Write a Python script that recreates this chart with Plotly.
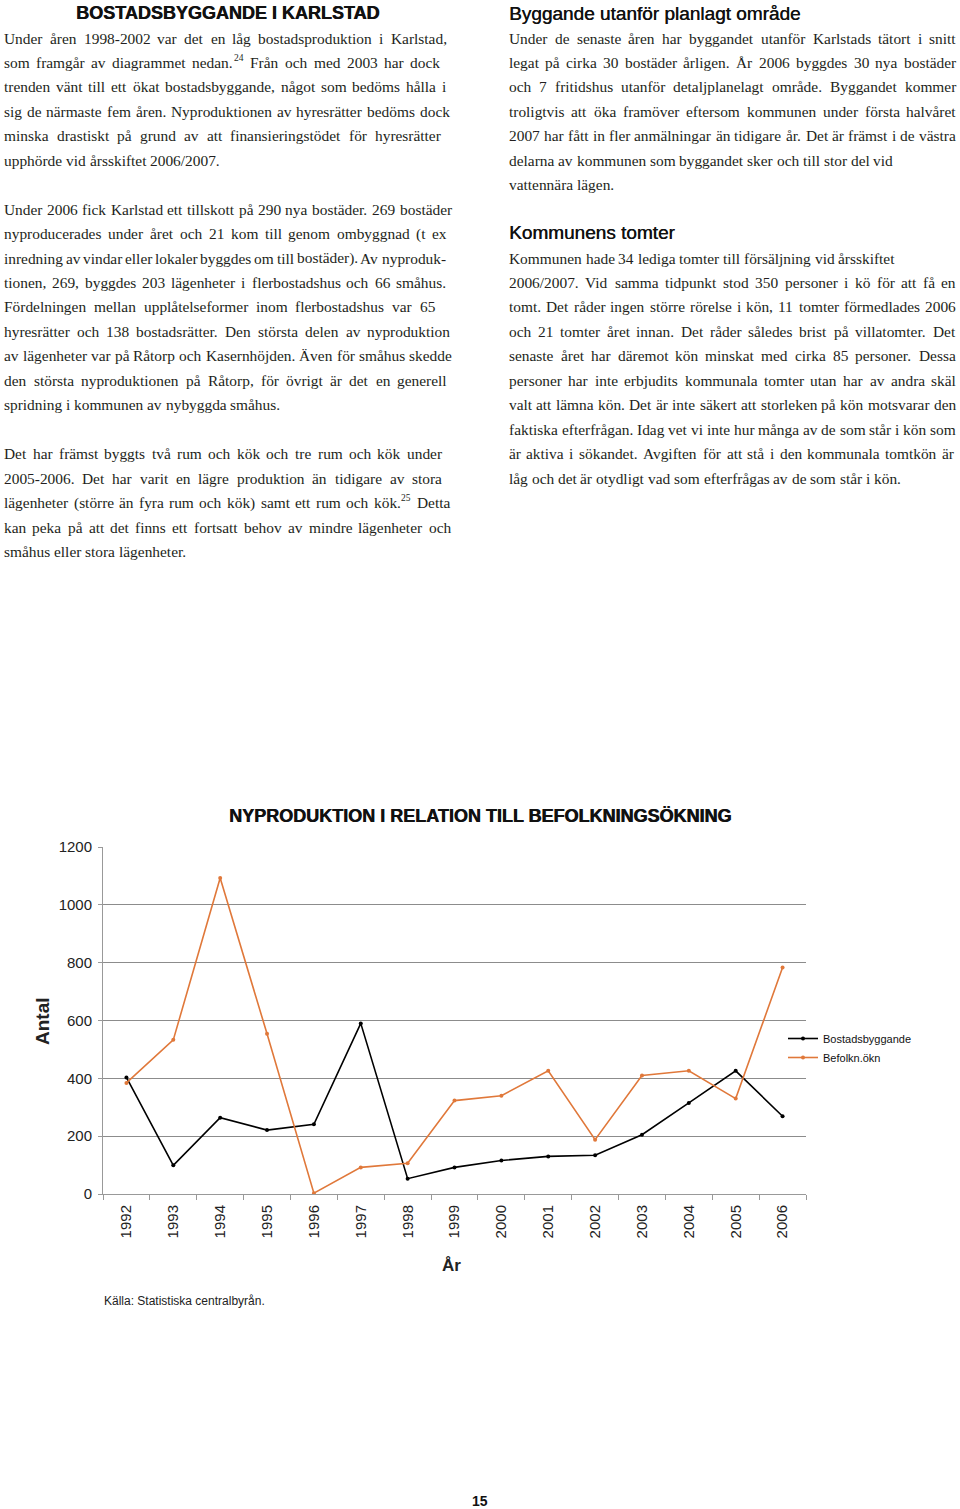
import plotly.graph_objects as go

# ---------------- data ----------------
years = [str(y) for y in range(1992, 2007)]
bostadsbyggande = [403, 99, 264, 221, 241, 590, 53, 92, 116, 130, 134, 205, 315, 426, 269]
befolkn_okn = [384, 533, 1093, 554, 3, 92, 106, 323, 340, 426, 188, 410, 426, 330, 783]
y_ticks = [0, 200, 400, 600, 800, 1000, 1200]

chart_title = "NYPRODUKTION I RELATION TILL BEFOLKNINGSÖKNING"
y_title = "Antal"
x_title = "År"
source = "Källa: Statistiska centralbyrån."
page_no = "15"

left_heading = "BOSTADSBYGGANDE I KARLSTAD"
left_lines = [
    "Under åren 1998-2002 var det en låg bostadsproduktion i Karlstad,",
    "som framgår av diagrammet nedan.^24  Från och med 2003 har dock",
    "trenden vänt till ett ökat bostadsbyggande, något som bedöms hålla i",
    "sig de närmaste fem åren. Nyproduktionen av hyresrätter bedöms dock",
    "minska drastiskt på grund av att finansieringstödet för hyresrätter",
    "upphörde vid årsskiftet 2006/2007.",
    "",
    "Under 2006 fick Karlstad ett tillskott på 290 nya bostäder. 269 bostäder",
    "nyproducerades under året och 21 kom till genom ombyggnad (t ex",
    "inredning av vindar eller lokaler byggdes om till bostäder). Av nyproduk-",
    "tionen, 269, byggdes 203 lägenheter i flerbostadshus och 66 småhus.",
    "Fördelningen mellan upplåtelseformer inom flerbostadshus var 65",
    "hyresrätter och 138 bostadsrätter. Den största delen av nyproduktion",
    "av lägenheter var på Råtorp och Kasernhöjden. Även för småhus skedde",
    "den största nyproduktionen på Råtorp, för övrigt är det en generell",
    "spridning i kommunen av nybyggda småhus.",
    "",
    "Det har främst byggts två rum och kök och tre rum och kök under",
    "2005-2006. Det har varit en lägre produktion än tidigare av stora",
    "lägenheter (större än fyra rum och kök) samt ett rum och kök.^25 Detta",
    "kan peka på att det finns ett fortsatt behov av mindre lägenheter och",
    "småhus eller stora lägenheter.",
]

right_heading1 = "Byggande utanför planlagt område"
right_lines1 = [
    "Under de senaste åren har byggandet utanför Karlstads tätort i snitt",
    "legat på cirka 30 bostäder årligen. År 2006 byggdes 30 nya bostäder",
    "och 7 fritidshus utanför detaljplanelagt område.  Byggandet kommer",
    "troligtvis att öka framöver eftersom kommunen under första halvåret",
    "2007 har fått in fler anmälningar än tidigare år. Det är främst i de västra",
    "delarna av kommunen som byggandet sker och till stor del vid",
    "vattennära lägen.",
]
right_heading2 = "Kommunens tomter"
right_lines2 = [
    "Kommunen hade 34 lediga tomter till försäljning vid årsskiftet",
    "2006/2007. Vid samma tidpunkt stod 350 personer i kö för att få en",
    "tomt. Det råder ingen större rörelse i kön, 11 tomter förmedlades 2006",
    "och 21 tomter året innan. Det råder således brist på villatomter. Det",
    "senaste året har däremot kön minskat med cirka 85 personer. Dessa",
    "personer har inte erbjudits kommunala tomter utan har av andra skäl",
    "valt att lämna kön. Det är inte säkert att storleken på kön motsvarar den",
    "faktiska efterfrågan. Idag vet vi inte hur många av de som står i kön som",
    "är aktiva i sökandet. Avgiften för att stå i den kommunala tomtkön är",
    "låg och det är otydligt vad som efterfrågas av de som står i kön.",
]

# ---------------- layout geometry (page pixels) ----------------
PAGE_W, PAGE_H = 960, 1509
PL, PR, PT, PB = 103, 806, 847, 1194  # plot area in page pixels

# right edge each text line is set to (None = ragged / paragraph end)
left_ends = [446, 439, 445, 449, 440, None, None, 451, 446, 445, 445, 434, 449, 451, 446,
             None, None, 441, 441, 449, 450, None]
right_ends1 = [955, 955, 955, 955, 955, None, None]
right_ends2 = [None, 955, 955, 954, 955, 955, 955, 955, 953, None]


def px(x):
    return (x - PL) / (PR - PL)


def py(y):
    return (PB - y) / (PB - PT)


ORANGE = "#E0783A"
TEXT = "#231f20"
SERIF = "Liberation Serif"
SANS = "Liberation Sans"

# Times / Liberation Serif advance widths (per 1000 em) for justification
_TW = {' ': 250, ',': 250, '-': 333, '.': 250, '/': 278, '(': 333, ')': 333, ':': 278,
       'A': 722, 'B': 667, 'C': 667, 'D': 722, 'E': 611, 'F': 556, 'G': 722, 'H': 722,
       'I': 333, 'J': 389, 'K': 722, 'L': 611, 'M': 889, 'N': 722, 'O': 722, 'P': 556,
       'Q': 722, 'R': 667, 'S': 556, 'T': 611, 'U': 722, 'V': 722, 'W': 944, 'X': 722,
       'Y': 722, 'Z': 611, 'a': 444, 'b': 500, 'c': 444, 'd': 500, 'e': 444, 'f': 333,
       'g': 500, 'h': 500, 'i': 278, 'j': 278, 'k': 500, 'l': 278, 'm': 778, 'n': 500,
       'o': 500, 'p': 500, 'q': 500, 'r': 333, 's': 389, 't': 278, 'u': 500, 'v': 500,
       'w': 722, 'x': 500, 'y': 500, 'z': 444, 'å': 444, 'ä': 444, 'ö': 500, 'Å': 722,
       'Ä': 722, 'Ö': 722, 'é': 444}
for _d in "0123456789":
    _TW[_d] = 500


def tw(s, size):
    return sum(_TW.get(c, 500) for c in s) * size / 1000.0


fig = go.Figure()
fig.add_trace(go.Scatter(
    x=years, y=bostadsbyggande, name="Bostadsbyggande", mode="lines+markers",
    line=dict(color="#000000", width=1.6), marker=dict(size=4, color="#000000"),
))
fig.add_trace(go.Scatter(
    x=years, y=befolkn_okn, name="Befolkn.ökn", mode="lines+markers",
    line=dict(color=ORANGE, width=1.6), marker=dict(size=4, color=ORANGE),
))

ann = []


def add_text(x, y, text, size, family=SERIF, color=TEXT, anchor="left", angle=0, shadow=None):
    f = dict(family=family, size=size, color=color)
    if shadow:
        f["shadow"] = shadow
    ann.append(dict(
        x=px(x), y=py(y), xref="paper", yref="paper", text=text, showarrow=False,
        xanchor=anchor, yanchor="middle", textangle=angle, font=f, borderpad=0,
    ))


BODY = 15.4
STEP = 24.45


def set_line(x0, y, line, end, size=BODY):
    words = line.split()
    parts = []
    for w in words:
        if "^" in w:
            main, sup = w.split("^")
            parts.append((main, sup))
        else:
            parts.append((w, None))

    def widths(s):
        return [tw(m, s) + (tw(sp, s * 0.62) + 1 if sp else 0) for m, sp in parts]

    s = size
    ws = widths(s)
    n = len(parts)
    if end is not None and n > 1:
        gap = (end - x0 - sum(ws)) / (n - 1)
        if gap < 0.14 * s:
            s = (end - x0) / (sum(ws) / s + (n - 1) * 0.14)
            ws = widths(s)
            gap = (end - x0 - sum(ws)) / (n - 1)
    else:
        gap = 0.25 * s
    x = x0
    for (m, sp), w in zip(parts, ws):
        add_text(x, y, m, s)
        if sp:
            add_text(x + tw(m, s) + 0.5, y - 0.33 * s, sp, s * 0.62)
        x += w + gap


HEAD_SHADOW = "0.6px 0px 0px #111"
# left column
add_text(227, 13, "<b>" + left_heading + "</b>", 18, SANS, "#111", "center", shadow=HEAD_SHADOW)
for i, (line, end) in enumerate(zip(left_lines, left_ends)):
    if line:
        set_line(3, 38 + i * STEP, line, end)

# right column
add_text(508, 13, right_heading1, 19, SANS, "#111", shadow="0.4px 0px 0px #111")
for i, (line, end) in enumerate(zip(right_lines1, right_ends1)):
    set_line(508, 38 + i * STEP, line, end)
add_text(508, 232, right_heading2, 19, SANS, "#111", shadow="0.4px 0px 0px #111")
for i, (line, end) in enumerate(zip(right_lines2, right_ends2)):
    set_line(508, 258 + i * STEP, line, end)

# chart texts
add_text(480, 816, "<b>" + chart_title + "</b>", 18, SANS, "#111", "center", shadow=HEAD_SHADOW)
add_text(42, 1021, "<b>" + y_title + "</b>", 19, SANS, "#222", "center", -90)
add_text(451, 1265, "<b>" + x_title + "</b>", 17, SANS, "#222", "center")
add_text(103, 1301, source, 12, SANS, "#222")
add_text(480, 1501, "<b>" + page_no + "</b>", 14, SANS, "#111", "center")

fig.update_layout(
    width=PAGE_W, height=PAGE_H,
    margin=dict(l=PL, r=PAGE_W - PR, t=PT, b=PAGE_H - PB, pad=0),
    paper_bgcolor="white", plot_bgcolor="white",
    showlegend=True,
    legend=dict(
        x=px(783), y=py(1048), xanchor="left", yanchor="middle",
        font=dict(family=SANS, size=11, color="#111"),
        itemwidth=30, bgcolor="rgba(0,0,0,0)", tracegroupgap=0,
    ),
    annotations=ann,
)
fig.update_xaxes(
    type="category", range=[-0.5, len(years) - 0.5], tickangle=-90,
    tickson="boundaries", ticks="outside", ticklen=5,
    tickcolor="#999", showline=True, linecolor="#999", linewidth=1,
    showgrid=False, tickfont=dict(family=SANS, size=15, color="#222"),
    ticklabelstandoff=4, automargin=False,
)
fig.update_yaxes(
    range=[0, 1200], tickvals=y_ticks, ticks="outside", ticklen=4, tickcolor="#999",
    showline=True, linecolor="#999", linewidth=1, showgrid=True, gridcolor="#8c8c8c",
    gridwidth=1, zeroline=False, tickfont=dict(family=SANS, size=15, color="#222"),
    ticklabelstandoff=3, automargin=False,
)

fig.write_html("out.html", config={"displayModeBar": False},
               post_script="document.body.style.margin='0px';")
